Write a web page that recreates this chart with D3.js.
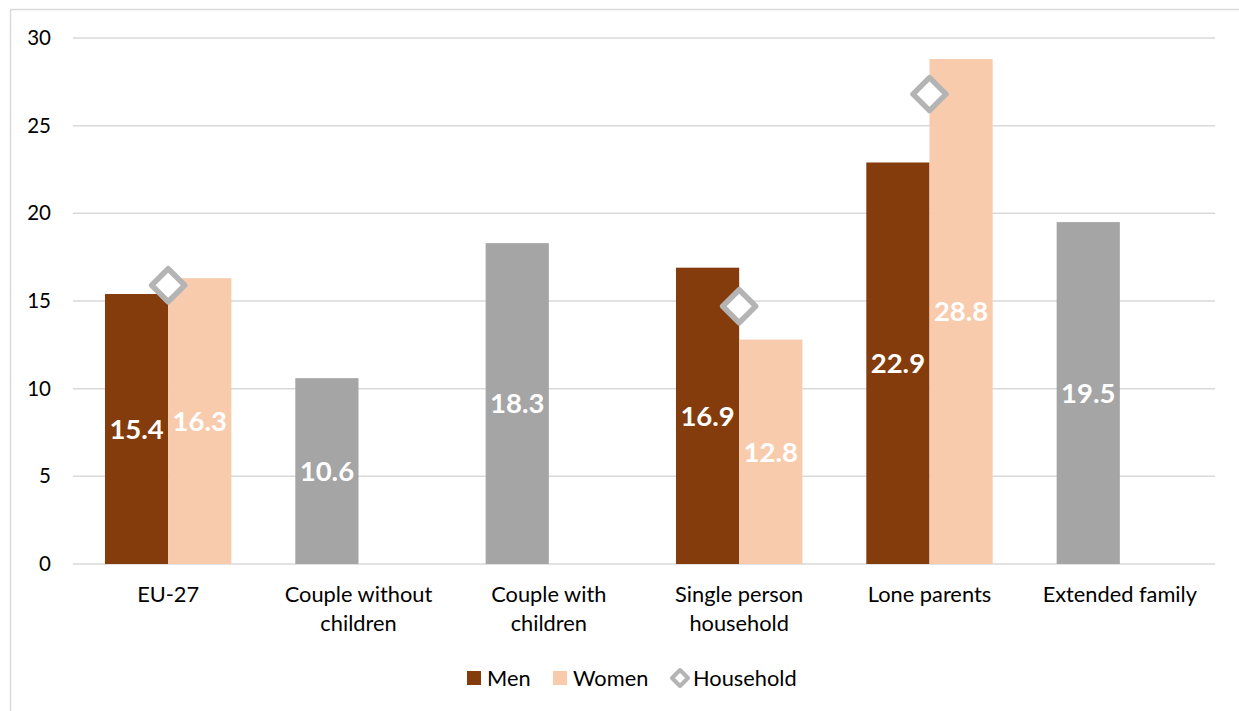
<!DOCTYPE html>
<html>
<head>
<meta charset="utf-8">
<script src="https://cdn.jsdelivr.net/npm/d3@7"></script>
<style>
  html, body { margin: 0; padding: 0; background: #fff; }
  svg { display: block; font-family: Lato, "Open Sans", sans-serif; }
</style>
</head>
<body>
<svg id="chart" width="1239" height="711"></svg>
<script>
// Household types
const categories = ["EU-27", "Couple without children", "Couple with children", "Single person household", "Lone parents", "Extended family"];
const categoryLines = [["EU-27"], ["Couple without", "children"], ["Couple with", "children"], ["Single person", "household"], ["Lone parents"], ["Extended family"]];
// Left-slot values (men; grey where only a household total exists)
const menValues = [15.4, 10.6, 18.3, 16.9, 22.9, 19.5];
const menIsHousehold = [false, true, true, false, false, true];
const womenValues = [16.3, null, null, 12.8, 28.8, null];
const householdValues = [15.9, null, null, 14.7, 26.8, null];
const yTicks = [0, 5, 10, 15, 20, 25, 30];
const seriesNames = ["Men", "Women", "Household"];

const colors = { men: "#843C0C", women: "#F8CBAD", grey: "#A5A5A5", marker: "#B4B4B4" };

const svg = d3.select("#chart");
const W = 1239, H = 711;

// outer frame (top and left edges visible)
svg.append("line").attr("x1", 10.5).attr("x2", 10.5).attr("y1", 9.5).attr("y2", H).attr("stroke", "#D9D9D9").attr("stroke-width", 1.5);
svg.append("line").attr("x1", 10.5).attr("x2", W).attr("y1", 9.5).attr("y2", 9.5).attr("stroke", "#D9D9D9").attr("stroke-width", 1.5);

const plot = { left: 73, right: 1215, top: 38, bottom: 564 };

const x = d3.scaleBand().domain(categories).range([plot.left, plot.right]).paddingInner(0.336).paddingOuter(0.168);
const sub = d3.scaleBand().domain(["m", "w"]).range([0, x.bandwidth()]);
const y = d3.scaleLinear().domain([0, 30]).range([plot.bottom, plot.top]);

// gridlines
svg.append("g").selectAll("line").data(yTicks).join("line")
  .attr("x1", plot.left).attr("x2", plot.right)
  .attr("y1", d => y(d)).attr("y2", d => y(d))
  .attr("stroke", "#D9D9D9").attr("stroke-width", 1.5);

// y axis labels
const yAxis = svg.append("g").attr("transform", `translate(${plot.left},0)`)
  .call(d3.axisLeft(y).tickValues(yTicks).tickSize(0).tickPadding(22).tickFormat(d3.format("d")));
yAxis.select(".domain").remove();
yAxis.selectAll("text").attr("font-size", 20.5).attr("fill", "#000").attr("font-family", "Lato, sans-serif");

// bars
const groups = categories.map((c, i) => ({ c, i }));
svg.append("g").selectAll("rect").data(groups).join("rect")
  .attr("x", d => x(d.c) + sub("m"))
  .attr("width", sub.bandwidth())
  .attr("y", d => y(menValues[d.i]))
  .attr("height", d => y(0) - y(menValues[d.i]))
  .attr("fill", d => menIsHousehold[d.i] ? colors.grey : colors.men);

const wGroups = groups.filter(d => womenValues[d.i] != null);
svg.append("g").selectAll("rect").data(wGroups).join("rect")
  .attr("x", d => x(d.c) + sub("w"))
  .attr("width", sub.bandwidth())
  .attr("y", d => y(womenValues[d.i]))
  .attr("height", d => y(0) - y(womenValues[d.i]))
  .attr("fill", colors.women);

// value labels centred inside bars
const fmt = d3.format(".1f");
svg.append("g").selectAll("text").data(groups).join("text")
  .attr("x", d => x(d.c) + sub("m") + sub.bandwidth() / 2)
  .attr("y", d => (y(0) + y(menValues[d.i])) / 2)
  .attr("dy", "0.36em").attr("text-anchor", "middle")
  .attr("font-size", 27.5).attr("font-weight", "bold").attr("fill", "#fff")
  .text(d => fmt(menValues[d.i]));
svg.append("g").selectAll("text").data(wGroups).join("text")
  .attr("x", d => x(d.c) + sub("w") + sub.bandwidth() / 2)
  .attr("y", d => (y(0) + y(womenValues[d.i])) / 2)
  .attr("dy", "0.36em").attr("text-anchor", "middle")
  .attr("font-size", 27.5).attr("font-weight", "bold").attr("fill", "#fff")
  .text(d => fmt(womenValues[d.i]));

// household markers
const diamond = (cx, cy, r) => `M${cx},${cy - r}L${cx + r},${cy}L${cx},${cy + r}L${cx - r},${cy}Z`;
const hGroups = groups.filter(d => householdValues[d.i] != null);
svg.append("g").selectAll("path").data(hGroups).join("path")
  .attr("d", d => diamond(x(d.c) + x.bandwidth() / 2, y(householdValues[d.i]), 16.5))
  .attr("fill", "#fff").attr("stroke", colors.marker).attr("stroke-width", 5.5).attr("stroke-linejoin", "round");

// category labels
const cat = svg.append("g");
groups.forEach(d => {
  const t = cat.append("text")
    .attr("x", x(d.c) + x.bandwidth() / 2)
    .attr("y", 602)
    .attr("text-anchor", "middle").attr("font-size", 21.8).attr("fill", "#000");
  categoryLines[d.i].forEach((line, k) => {
    t.append("tspan").attr("x", x(d.c) + x.bandwidth() / 2).attr("dy", k === 0 ? 0 : 29).text(line);
  });
});

// legend
const lg = svg.append("g").attr("font-size", 21.8).attr("fill", "#000");
const ly = 678;
lg.append("rect").attr("x", 467).attr("y", ly - 7).attr("width", 14).attr("height", 14).attr("fill", colors.men);
lg.append("text").attr("x", 487).attr("y", ly).attr("dy", "0.35em").text(seriesNames[0]);
lg.append("rect").attr("x", 553).attr("y", ly - 7).attr("width", 14).attr("height", 14).attr("fill", colors.women);
lg.append("text").attr("x", 573).attr("y", ly).attr("dy", "0.35em").text(seriesNames[1]);
lg.append("path").attr("d", diamond(680, ly, 8)).attr("fill", "#fff").attr("stroke", colors.marker).attr("stroke-width", 4).attr("stroke-linejoin", "round");
lg.append("text").attr("x", 693).attr("y", ly).attr("dy", "0.35em").text(seriesNames[2]);
</script>
</body>
</html>
